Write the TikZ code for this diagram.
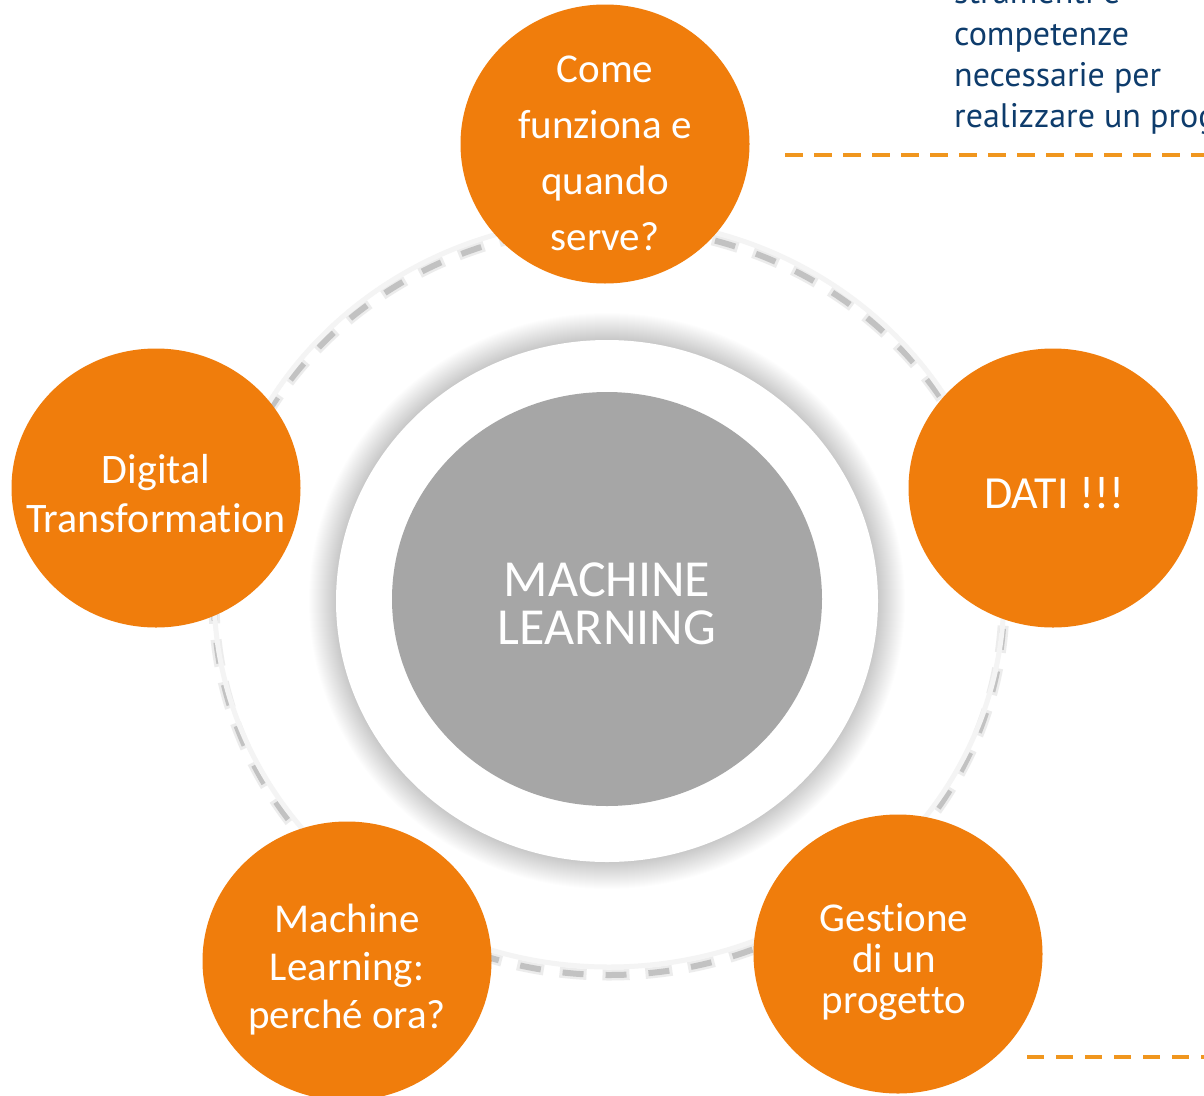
\documentclass[tikz,border=0pt]{standalone}
\usepackage{fontspec}
\setmainfont{Carlito}[RawFeature={-liga;-clig}]
\newfontfamily\bluefont{PT Sans}
\usetikzlibrary{shapes.geometric}
\definecolor{mlorange}{HTML}{F07D0C}
\definecolor{mlgray}{HTML}{A6A6A6}
\definecolor{mlblue}{HTML}{0E3C6C}
\definecolor{mldash}{HTML}{F0961E}
\definecolor{mlring}{HTML}{F4F4F4}
\definecolor{mlringdash}{HTML}{C2C2C2}
\begin{document}
\begin{tikzpicture}[x=1pt,y=-1pt,
  topic/.style={ellipse, fill=mlorange, inner sep=0pt, minimum width=289pt, minimum height=279pt},
  topictext/.style={text=white, align=center, inner sep=0pt},
  orangedash/.style={draw=mldash, line width=4pt},
  ringdash/.style={draw=mlringdash}]
\useasboundingbox (0,0) rectangle (1204,1095);
\clip (0,0) rectangle (1204,1095);
\fill[white] (0,0) rectangle (1204,1095);

% dashed ring
\draw[ringdash, opacity=.3, line width=11pt, dash pattern=on 27pt off 16pt] (609,601) ellipse [x radius=395pt, y radius=374pt];
\draw[ringdash, line width=6pt, dash pattern=on 21pt off 22pt, dash phase=40pt] (609,601) ellipse [x radius=395pt, y radius=374pt];
\draw[mlring, line width=5pt] (609,593) ellipse [x radius=395pt, y radius=374pt];

% glow around white circle
\foreach \i in {1,...,28}
  \fill[black, opacity=0.008] (607,601) ellipse [x radius={270pt+\i*1pt}, y radius={260pt+\i*1pt}];

\node[ellipse, fill=white, inner sep=0pt, minimum width=542pt, minimum height=522pt] (ring) at (607,601) {};
\node[ellipse, fill=mlgray, inner sep=0pt, minimum width=430pt, minimum height=414pt] (core) at (607,599) {};
\node[topictext, font=\fontsize{52}{48}\selectfont] (coretext) at (607,604) {MACHINE\\LEARNING};

% topics
\node[topic] (top) at (605,144) {};
\node[topictext, font=\fontsize{41}{56}\selectfont] (toptext) at (605,153) {Come\\funziona e\\quando\\serve?};

\node[topic] (left) at (156,488) {};
\node[topictext, font=\fontsize{42}{49}\selectfont] (lefttext) at (156,494) {Digital\\Transformation};

\node[topic] (right) at (1053,488) {};
\node[topictext, font=\fontsize{46}{54}\selectfont] (righttext) at (1054,493) {DATI !!!};

\node[topic] (botleft) at (347,961) {};
\node[topictext, font=\fontsize{41}{48}\selectfont] (botlefttext) at (347,970) {Machine\\Learning:\\perché ora?};

\node[topic] (botright) at (898,954) {};
\node[topictext, font=\fontsize{41}{41}\selectfont] (botrighttext) at (894,962) {Gestione\\di un\\progetto};

% top-right text
\node[text=mlblue, align=left, inner sep=0pt, anchor=west, font=\bluefont\fontsize{34}{41.3}\selectfont] (note) at (954,57.5) {strumenti e\\competenze\\necessarie per\\realizzare un prog};

% orange dashed lines
\coordinate (t1) at (785,155);
\coordinate (t2) at (1204,155);
\draw[orangedash, dash pattern=on 18pt off 11pt] (t1) -- (t2);
\coordinate (b1) at (1027,1057);
\coordinate (b2) at (1204,1057);
\draw[orangedash, dash pattern=on 17pt off 12pt] (b1) -- (b2);
\end{tikzpicture}
\end{document}
